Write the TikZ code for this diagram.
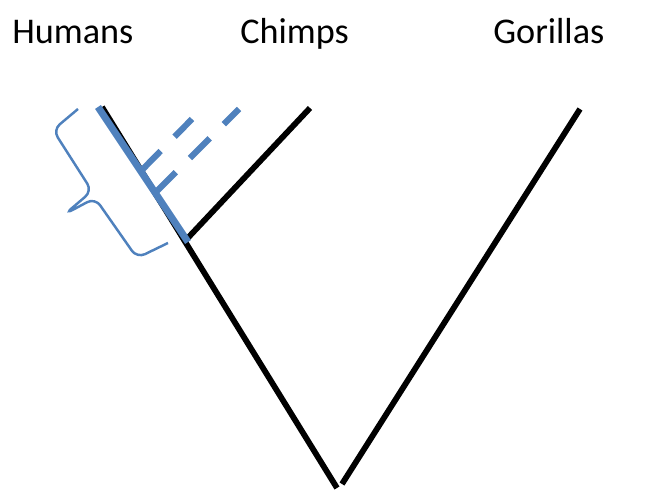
\documentclass[tikz,border=0pt]{standalone}
\usepackage{fontspec}
\setmainfont{Carlito}
\usetikzlibrary{calc, positioning}
\definecolor{accent}{HTML}{4F81BD}

\begin{document}
\begin{tikzpicture}[x=0.02cm, y=-0.02cm,
        taxon/.style={anchor=base west, inner sep=0pt, font=\fontsize{20.6}{25}\selectfont},
        branch/.style={line width=3.3pt},
        lineage/.style={accent, line width=4pt},
        fossil/.style={accent, line width=3.5pt, dash pattern=on 0.56cm off 0.4cm}]
        \useasboundingbox (0,0) rectangle (663,500);
        \node[taxon] (humans) at (12,44) {Humans};
        \node[taxon] (chimps) at (240,44) {Chimps};
        \node[taxon] (gorillas) at (493,44) {Gorillas};
        \coordinate (htip) at (102,107);
        \coordinate (ctip) at (310,108);
        \coordinate (gtip) at (580,109);
        \coordinate (hc) at (185,241);
        \coordinate (rootl) at (337,488);
        \coordinate (rootr) at (342,484);
        \draw[branch] (htip) -- (rootl);
        \draw[branch] (rootr) -- (gtip);
        \draw[branch] (hc) -- (ctip);
        \coordinate (btop) at (98,107);
        \coordinate (bbot) at (188,242);
        \draw[lineage] (btop) -- (bbot);
        \draw[fossil] (141,171) -- (192,119);
        \draw[fossil] (156,192) -- (239,109);
        \draw[accent, line width=1.4pt, rounded corners=5pt] (78,109) -- (53,130) -- (92,191) -- (65,214)
        -- (95,198) -- (137,258) -- (168,243);
    \end{tikzpicture}
\end{document}
